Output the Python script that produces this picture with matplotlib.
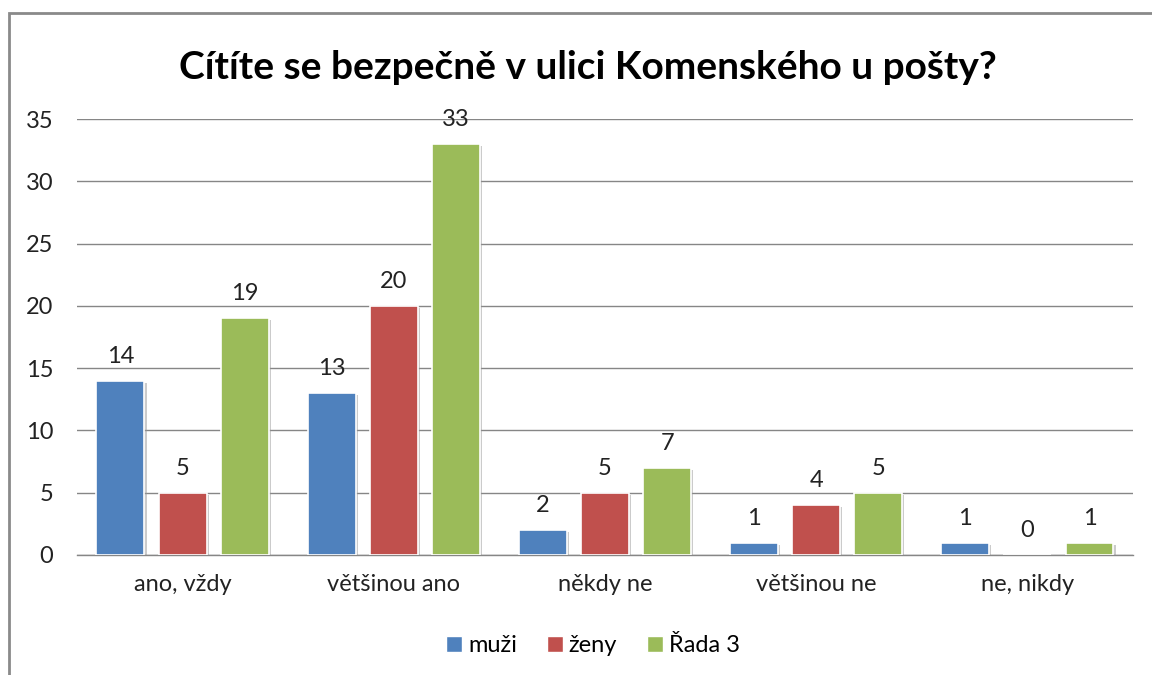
import matplotlib

matplotlib.use("Agg")

import matplotlib.pyplot as plt
import matplotlib.patheffects as pe
from matplotlib.lines import Line2D
from matplotlib.patches import Rectangle
import numpy as np

plt.rcParams["font.family"] = ["Lato", "DejaVu Sans"]

TITLE = "Cítíte se bezpečně v ulici Komenského u pošty?"
categories = ["ano, vždy", "většinou ano", "někdy ne", "většinou ne", "ne, nikdy"]
series_names = ["muži", "ženy", "Řada 3"]
muzi = [14, 13, 2, 1, 1]
zeny = [5, 20, 5, 4, 0]
rada3 = [19, 33, 7, 5, 1]
colors = ["#4F81BD", "#C0504D", "#9BBB59"]
y_ticks = [0, 5, 10, 15, 20, 25, 30, 35]

fig = plt.figure(figsize=(11.52, 6.75), dpi=100)
ax = fig.add_axes([0.0668, 0.1778, 0.9167, 0.6459])

x = np.arange(len(categories))
pitch = 0.294
width = 0.227
shadow = [pe.SimplePatchShadow(offset=(1.5, -1.5), shadow_rgbFace="#999999", alpha=0.5), pe.Normal()]

for i, (name, values) in enumerate(zip(series_names, [muzi, zeny, rada3])):
    pos = x + (i - 1) * pitch
    bars = ax.bar(pos, values, width, color=colors[i], edgecolor="white", linewidth=1.2,
                  label=name, zorder=3)
    for b in bars:
        b.set_path_effects(shadow)
    for px, v in zip(pos, values):
        ax.annotate(str(v), (px, v), xytext=(0, 10), textcoords="offset points",
                    ha="center", va="bottom", fontsize=17, color="#222222")

ax.set_xlim(-0.5, len(categories) - 0.5)
ax.set_ylim(0, 35)
ax.set_yticks(y_ticks)
ax.set_xticks(x)
ax.set_xticklabels(categories)
ax.tick_params(axis="both", length=0, labelsize=17, colors="#222222")
ax.tick_params(axis="y", pad=17)
ax.tick_params(axis="x", pad=14)
ax.yaxis.grid(True, color="#868686", linewidth=1.0, zorder=0)
ax.set_axisbelow(True)
for side in ["left", "right", "top"]:
    ax.spines[side].set_visible(False)
ax.spines["bottom"].set_color("#868686")
ax.spines["bottom"].set_linewidth(1.0)

fig.text(0.51, 0.9, TITLE, ha="center", va="center", fontsize=28, fontweight="bold", color="black")

handles = [Line2D([], [], marker="s", linestyle="none", markersize=11, markerfacecolor=c,
                  markeredgecolor="white") for c in colors]
fig.legend(handles, series_names, loc="center", bbox_to_anchor=(0.513, 0.044), ncol=3,
           frameon=False, fontsize=17, handletextpad=0.1, columnspacing=1.1, handlelength=1.0)

# chart border: only left and top edges fall inside the picture
fig.add_artist(Rectangle((0.0075, -0.2), 1.2, 1.181, transform=fig.transFigure, fill=False,
                         edgecolor="#8a8a8a", linewidth=2))

fig.savefig("out.png", dpi=100)
